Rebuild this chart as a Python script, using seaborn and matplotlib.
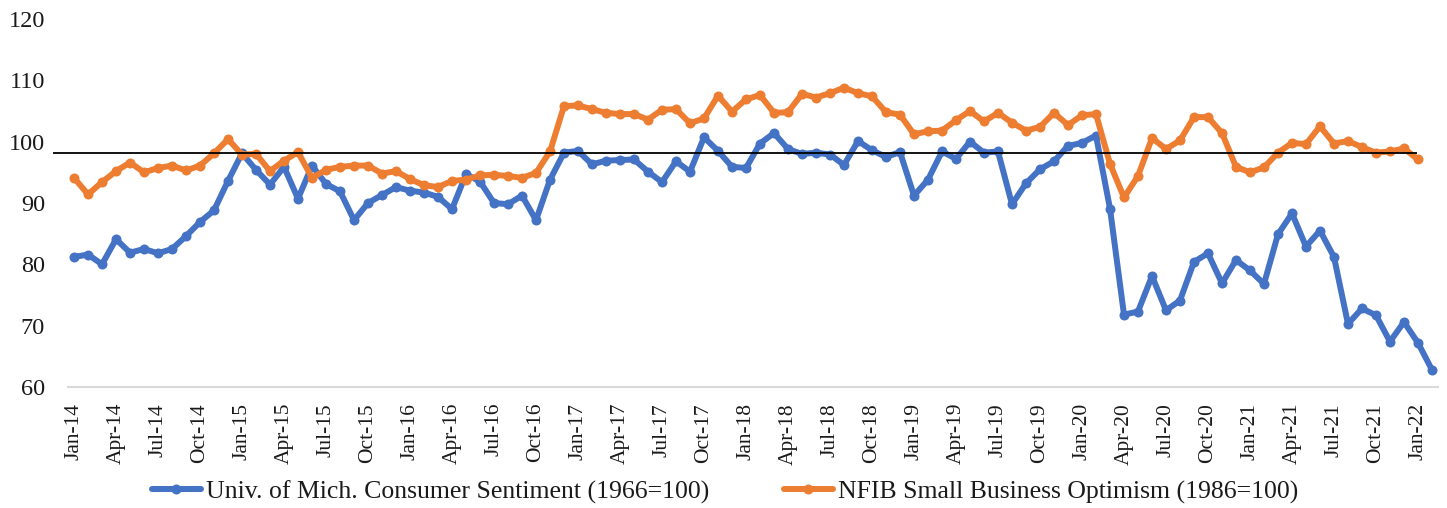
import matplotlib
matplotlib.use("Agg")
import matplotlib.pyplot as plt
from matplotlib.lines import Line2D
import numpy as np
import pandas as pd
import seaborn as sns

# ---------------- data ----------------
months = pd.date_range("2014-01-01", "2022-02-01", freq="MS")
month_labels = months.strftime("%b-%y").tolist()

umich_label = "Univ. of Mich. Consumer Sentiment (1966=100)"
nfib_label = "NFIB Small Business Optimism (1986=100)"

umich = [
    81.2, 81.6, 80.0, 84.1, 81.9, 82.5, 81.8, 82.5, 84.6, 86.9, 88.8, 93.6,   # 2014
    98.1, 95.4, 93.0, 95.9, 90.7, 96.1, 93.1, 91.9, 87.2, 90.0, 91.3, 92.6,   # 2015
    92.0, 91.7, 91.0, 89.0, 94.7, 93.5, 90.0, 89.8, 91.2, 87.2, 93.8, 98.2,   # 2016
    98.5, 96.3, 96.9, 97.0, 97.1, 95.1, 93.4, 96.8, 95.1, 100.7, 98.5, 95.9,  # 2017
    95.7, 99.7, 101.4, 98.8, 98.0, 98.2, 97.9, 96.2, 100.1, 98.6, 97.5, 98.3, # 2018
    91.2, 93.8, 98.4, 97.2, 100.0, 98.2, 98.4, 89.8, 93.2, 95.5, 96.8, 99.3,  # 2019
    99.8, 101.0, 89.1, 71.8, 72.3, 78.1, 72.5, 74.1, 80.4, 81.8, 76.9, 80.7,  # 2020
    79.0, 76.8, 84.9, 88.3, 82.9, 85.5, 81.2, 70.3, 72.8, 71.7, 67.4, 70.6,   # 2021
    67.2, 62.8,                                                               # 2022
]

nfib = [
    94.1, 91.4, 93.4, 95.2, 96.6, 95.0, 95.7, 96.1, 95.3, 96.1, 98.1, 100.4,   # 2014
    97.9, 98.0, 95.2, 96.9, 98.3, 94.1, 95.4, 95.9, 96.1, 96.1, 94.8, 95.2,    # 2015
    93.9, 92.9, 92.6, 93.6, 93.8, 94.5, 94.6, 94.4, 94.1, 94.9, 98.4, 105.8,   # 2016
    105.9, 105.3, 104.7, 104.5, 104.5, 103.6, 105.2, 105.3, 103.0, 103.8, 107.5, 104.9,  # 2017
    106.9, 107.6, 104.7, 104.8, 107.8, 107.2, 107.9, 108.8, 107.9, 107.4, 104.8, 104.4,  # 2018
    101.2, 101.7, 101.8, 103.5, 105.0, 103.3, 104.7, 103.1, 101.8, 102.4, 104.7, 102.7,  # 2019
    104.3, 104.5, 96.4, 90.9, 94.4, 100.6, 98.8, 100.2, 104.0, 104.0, 101.4, 95.9,       # 2020
    95.0, 95.8, 98.2, 99.8, 99.6, 102.5, 99.7, 100.1, 99.1, 98.2, 98.4, 98.9,           # 2021
    97.1,                                                                               # 2022
]

REF_LEVEL = 98.1            # horizontal reference line
REF_SPAN = (-1.5, 95.9)     # month-index span of the reference line

y_ticks = [60, 70, 80, 90, 100, 110, 120]

BLUE = "#4472C4"
ORANGE = "#ED7D31"

# ---------------- style ----------------
sns.set_theme(style="white")
plt.rcParams["font.family"] = ["Liberation Serif", "DejaVu Serif"]

W, H = 1447, 508
fig = plt.figure(figsize=(W / 100, H / 100), dpi=100)
ax = fig.add_axes([68 / W, 1 - 387 / H, (1438 - 68) / W, (387 - 19) / H])

df_u = pd.DataFrame({"month": np.arange(len(umich)), "value": umich})
df_n = pd.DataFrame({"month": np.arange(len(nfib)), "value": nfib})

LW, MS = 4.3, 7.2
line_kw = dict(linewidth=LW, marker="o", markersize=MS, markeredgewidth=0)
sns.lineplot(data=df_u, x="month", y="value", ax=ax, color=BLUE, zorder=3, **line_kw)
sns.lineplot(data=df_n, x="month", y="value", ax=ax, color=ORANGE, zorder=4, **line_kw)

ax.hlines(REF_LEVEL, REF_SPAN[0], REF_SPAN[1], color="black", linewidth=1.3,
          zorder=5, clip_on=False)

ax.set_ylim(y_ticks[0], y_ticks[-1])
ax.set_yticks(y_ticks)
ax.set_xlim(-0.43, len(umich) - 1 + 0.43)
tick_pos = np.arange(0, len(months), 3)
ax.set_xticks(tick_pos)
ax.set_xticklabels([month_labels[i] for i in tick_pos], rotation=90, va="top", ha="center")
ax.set_xlabel("")
ax.set_ylabel("")
ax.grid(False)

ax.tick_params(axis="y", length=0, pad=16.5, labelsize=17.5, labelcolor="#1a1a1a")
ax.tick_params(axis="x", length=0, pad=11.5, labelsize=15.5, labelcolor="#1a1a1a")

for s in ["top", "right", "left"]:
    ax.spines[s].set_visible(False)
ax.spines["bottom"].set_color("#D9D9D9")
ax.spines["bottom"].set_linewidth(1.5)
ax.spines["bottom"].set_zorder(1)

handles = [
    Line2D([], [], color=BLUE, linewidth=LW, marker="o", markersize=MS, markeredgewidth=0),
    Line2D([], [], color=ORANGE, linewidth=LW, marker="o", markersize=MS, markeredgewidth=0),
]
fig.legend(handles, [umich_label, nfib_label], loc="center",
           bbox_to_anchor=(0.501, 1 - 492 / H), ncol=2, frameon=False,
           fontsize=18.5, handlelength=1.9, handletextpad=0.2, columnspacing=2.9,
           labelcolor="#1a1a1a")

fig.savefig("out.png", dpi=100)
